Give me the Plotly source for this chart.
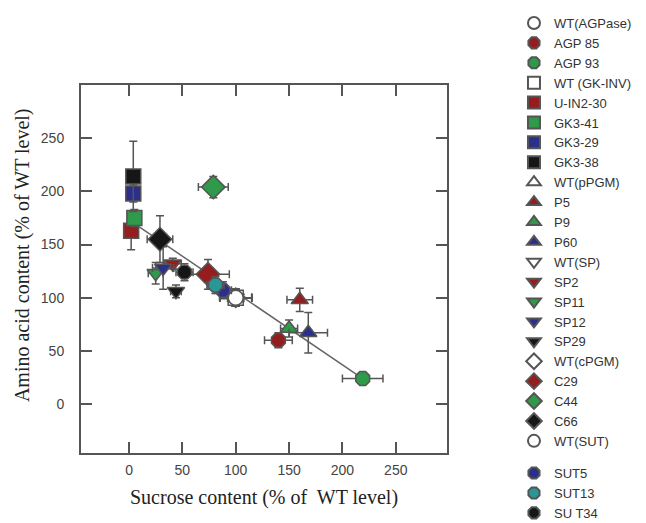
import plotly.graph_objects as go

# ---- data ----
names = ["WT(AGPase)", "AGP 85", "AGP 93", "WT (GK-INV)", "U-IN2-30", "GK3-41", "GK3-29", "GK3-38",
         "WT(pPGM)", "P5", "P9", "P60", "WT(SP)", "SP2", "SP11", "SP12", "SP29",
         "WT(cPGM)", "C29", "C44", "C66", "WT(SUT)", "SUT5", "SUT13", "SU T34"]
symbols = ["circle", "octagon", "octagon", "square", "square", "square", "square", "square",
           "triangle-up", "triangle-up", "triangle-up", "triangle-up",
           "triangle-down", "triangle-down", "triangle-down", "triangle-down", "triangle-down",
           "diamond", "diamond", "diamond", "diamond", "circle", "octagon", "octagon", "octagon"]
colors = ["white", "#961d1d", "#2e9a4a", "white", "#961d1d", "#2e9a4a", "#2b2f8c", "#161616",
          "white", "#961d1d", "#2e9a4a", "#2b2f8c",
          "white", "#961d1d", "#2e9a4a", "#2b2f8c", "#161616",
          "white", "#961d1d", "#2e9a4a", "#161616", "white", "#2b2f8c", "#2a9696", "#161616"]
sucrose = [100, 140, 219, 100, 2, 5, 4, 4,
           100, 160, 150, 168,
           100, 41, 25, 32, 44,
           100, 74, 79, 29, 100, 88, 81, 52]
amino = [100, 60, 24, 100, 163, 175, 198, 214,
         100, 98, 71, 67,
         100, 132, 123, 128, 106,
         100, 122, 204, 155, 100, 107, 112, 124]
sucrose_err = [15, 13, 19, 15, 3, 3, 3, 3,
               15, 12, 8, 18,
               15, 8, 7, 10, 5,
               15, 20, 14, 12, 15, 8, 8, 8]
amino_err = [8, 7, 5, 8, 18, 8, 8, 33,
             8, 11, 8, 19,
             8, 5, 10, 20, 6,
             8, 14, 10, 22, 8, 8, 8, 8]
legend_ids = ["legend"] * 22 + ["legend2"] * 3

fit_x = [7.5, 219]
fit_y = [168, 24]

x_ticks = [0, 50, 100, 150, 200, 250]
y_ticks = [0, 50, 100, 150, 200, 250]

x_title = "Sucrose content (% of  WT level)"
y_title = "Amino acid content (% of WT level)"

sizes = {"circle": 15, "octagon": 15, "square": 15, "triangle-up": 15,
         "triangle-down": 15, "diamond": 18}

fig = go.Figure()
fig.add_trace(go.Scatter(x=fit_x, y=fit_y, mode="lines", line=dict(color="#666666", width=1.5),
                         showlegend=False, hoverinfo="skip"))

for i, n in enumerate(names):
    sz = sizes[symbols[i]]
    if colors[i] == "white" and symbols[i] == "diamond":
        sz = 15
    fig.add_trace(go.Scatter(
        x=[sucrose[i]], y=[amino[i]], mode="markers", name=n,
        legend=legend_ids[i],
        marker=dict(symbol=symbols[i], color=colors[i], size=sz,
                    line=dict(color="#555555", width=1.5)),
        error_x=dict(type="data", array=[sucrose_err[i]], color="#555555", thickness=1.5, width=4),
        error_y=dict(type="data", array=[amino_err[i]], color="#555555", thickness=1.5, width=4),
    ))

axis_common = dict(showgrid=False, zeroline=False, showline=True, linecolor="#555555", linewidth=2,
                   mirror="ticks", ticks="inside", ticklen=11, tickwidth=1.5, tickcolor="#555555",
                   tickfont=dict(family="Liberation Sans", size=14, color="#444444"))

fig.update_xaxes(range=[-45, 298], tickvals=x_ticks, ticklabelstandoff=3, **axis_common)
fig.update_yaxes(range=[-46, 300], tickvals=y_ticks, ticklabelstandoff=12, **axis_common)

title_font = dict(family="Liberation Serif", size=20, color="#222222")
fig.add_annotation(text=x_title, xref="paper", yref="paper", x=0.5, y=-0.1196,
                   xanchor="center", yanchor="middle", showarrow=False, font=title_font)
fig.add_annotation(text=y_title, xref="paper", yref="paper", x=-0.161, y=0.538,
                   xanchor="center", yanchor="middle", showarrow=False, font=title_font,
                   textangle=-90)

legend_font = dict(family="Liberation Sans", size=13, color="#333333")
fig.update_layout(
    width=638, height=515,
    margin=dict(l=73, r=199, t=77, b=70, autoexpand=False),
    plot_bgcolor="white", paper_bgcolor="white",
    legend=dict(x=1.183, y=1.012, yref="container", xanchor="left", yanchor="top", font=legend_font,
                itemsizing="constant", bgcolor="rgba(0,0,0,0)", maxheight=1),
    legend2=dict(x=1.183, y=0.126, yref="container", xanchor="left", yanchor="top", font=legend_font,
                 itemsizing="constant", bgcolor="rgba(0,0,0,0)", maxheight=1),
)

fig.write_html("out.html")
